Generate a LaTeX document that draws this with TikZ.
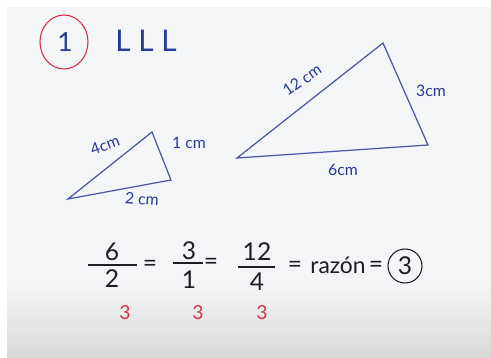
\documentclass[tikz,border=0pt]{standalone}
\usepackage{fontspec}
\setmainfont{Lato}
\usetikzlibrary{calc}
\definecolor{ink}{RGB}{40,58,150}
\definecolor{redink}{RGB}{212,48,72}
\definecolor{board}{RGB}{244,245,247}
\definecolor{marker}{RGB}{30,30,34}

\begin{document}
\begin{tikzpicture}[x=0.02cm,y=-0.02cm,
  every node/.style={text=ink,inner sep=1pt},
  side/.style={draw=ink!85,line width=0.7pt},
  bar/.style={draw=marker,line width=0.6pt},
  lbl/.style={font=\fontsize{9}{10}\selectfont},
  big/.style={text=marker,font=\fontsize{14}{16}\selectfont},
  rnum/.style={text=redink,font=\fontsize{11}{13}\selectfont}]
% board
\fill[white] (0,0) rectangle (491,358);
\fill[board] (7,7) rectangle (491,358);
\shade[top color=board,bottom color=gray!30] (7,285) rectangle (491,358);
\useasboundingbox (0,0) rectangle (491,358);

% title
\draw[redink,line width=0.6pt] (64,42) ellipse (24 and 27);
\node[font=\fontsize{15}{17}\selectfont] (one) at (65,42) {1};
\node[font=\fontsize{17}{19}\selectfont] (lll) at (146,41) {L L L};

% small triangle
\coordinate (sA) at (68,199);
\coordinate (sB) at (152,132);
\coordinate (sC) at (171,180);
\draw[side] (sA) -- (sB) -- (sC) -- cycle;
\node[lbl,rotate=20] (s4) at (105,145) {4cm};
\node[lbl] (s1) at (189,143) {1 cm};
\node[lbl,rotate=-5] (s2) at (142,199) {2 cm};

% large triangle
\coordinate (lA) at (237,158);
\coordinate (lB) at (383,43);
\coordinate (lC) at (428,145);
\draw[side] (lA) -- (lB) -- (lC) -- cycle;
\node[lbl,rotate=35] (l12) at (302,80) {12 cm};
\node[lbl] (l3) at (431,91) {3cm};
\node[lbl] (l6) at (343,170) {6cm};

% ratios
\node[big] (n6) at (112,252) {6};
\node[big] (d2) at (112,279) {2};
\draw[bar] (88,265) -- (137,265);
\node[big] (e1) at (150,266) {=};
\node[big] (n3) at (189,251) {3};
\node[big] (d1) at (189,280) {1};
\draw[bar] (173,263) -- (203,263);
\node[big] (e2) at (211,264) {=};
\node[big] (n12) at (257,252) {12};
\node[big] (d4) at (257,282) {4};
\draw[bar] (238,267) -- (275,267);
\node[big] (e3) at (295,267) {=};
\node[big,font=\fontsize{13}{15}\selectfont] (raz) at (338,265) {razón};
\node[big] (e4) at (376,267) {=};
\node[big,draw=marker,circle,line width=0.6pt,minimum size=34*0.02cm,inner sep=0pt] (res) at (405,266) {3};

\node[rnum] (r1) at (125,313) {3};
\node[rnum] (r2) at (198,313) {3};
\node[rnum] (r3) at (262,313) {3};
\end{tikzpicture}
\end{document}
